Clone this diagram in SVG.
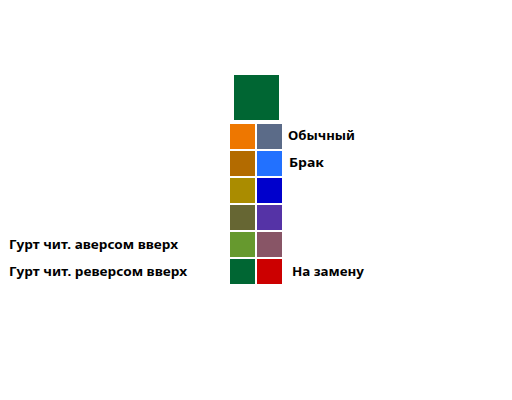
<svg xmlns="http://www.w3.org/2000/svg" width="512" height="400" viewBox="0 0 512 400">
<style>
.lbl{font-family:"Noto Sans","DejaVu Sans",sans-serif;font-weight:bold;font-size:13px;fill:#000}
</style>
<rect width="512" height="400" fill="#fff"/>
<g id="big"><rect x="234" y="75" width="45" height="45" fill="#006633"/></g>
<g id="swatches">
<rect x="230" y="124" width="25" height="25" fill="#EE7700"/>
<rect x="257" y="124" width="25" height="25" fill="#5B6B88"/>
<rect x="230" y="151" width="25" height="25" fill="#B36B00"/>
<rect x="257" y="151" width="25" height="25" fill="#2271FF"/>
<rect x="230" y="178" width="25" height="25" fill="#AA8C00"/>
<rect x="257" y="178" width="25" height="25" fill="#0000CC"/>
<rect x="230" y="205" width="25" height="25" fill="#666633"/>
<rect x="257" y="205" width="25" height="25" fill="#5533A6"/>
<rect x="230" y="232" width="25" height="25" fill="#66992E"/>
<rect x="257" y="232" width="25" height="25" fill="#885566"/>
<rect x="230" y="259" width="25" height="25" fill="#006633"/>
<rect x="257" y="259" width="25" height="25" fill="#CC0000"/>
</g>
<g id="labels">
<text class="lbl" x="288" y="139.5" textLength="67" lengthAdjust="spacingAndGlyphs">Обычный</text>
<text class="lbl" x="289" y="166.5" textLength="35" lengthAdjust="spacingAndGlyphs">Брак</text>
<text class="lbl" x="292" y="275.5" textLength="72" lengthAdjust="spacingAndGlyphs">На замену</text>
<text class="lbl" x="9" y="248.5" textLength="169" lengthAdjust="spacingAndGlyphs">Гурт чит. аверсом вверх</text>
<text class="lbl" x="9" y="275.5" textLength="178" lengthAdjust="spacingAndGlyphs">Гурт чит. реверсом вверх</text>
</g>
</svg>
